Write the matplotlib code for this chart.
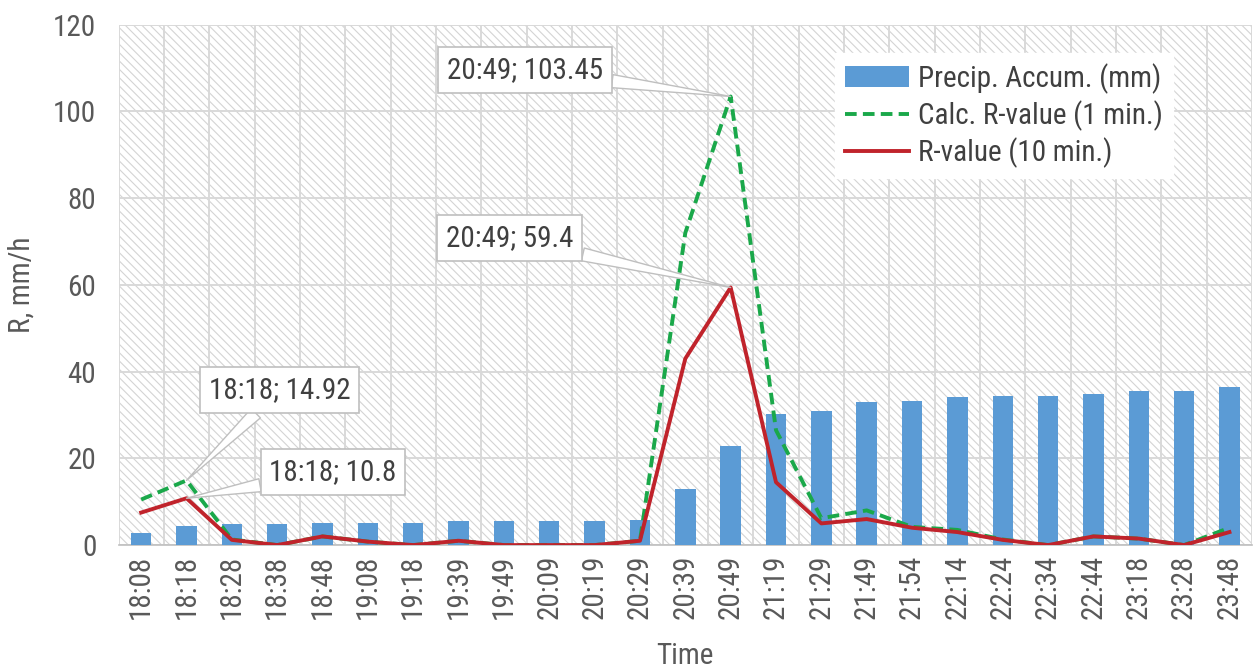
import matplotlib
matplotlib.use("Agg")
import matplotlib.pyplot as plt
from matplotlib.patches import Rectangle
from matplotlib import font_manager
import numpy as np

_names = {f.name for f in font_manager.fontManager.ttflist}
_fam = 'Roboto Condensed' if 'Roboto Condensed' in _names else 'Roboto'
plt.rcParams['font.family'] = [_fam, 'DejaVu Sans']
plt.rcParams['hatch.linewidth'] = 0.8
plt.rcParams['hatch.color'] = '#d4d4d4'

times = ["18:08", "18:18", "18:28", "18:38", "18:48", "19:08", "19:18", "19:39", "19:49",
         "20:09", "20:19", "20:29", "20:39", "20:49", "21:19", "21:29", "21:49", "21:54",
         "22:14", "22:24", "22:34", "22:44", "23:18", "23:28", "23:48"]
precip = [2.8, 4.5, 4.8, 4.8, 5.0, 5.2, 5.2, 5.5, 5.5, 5.5, 5.5, 5.8, 13.0, 22.8, 30.2,
          31.0, 33.0, 33.2, 34.2, 34.4, 34.4, 34.8, 35.5, 35.5, 36.5]
calc_r1 = [10.5, 14.92, 1.3, 0.0, 2.0, 0.8, 0.0, 1.0, 0.0, 0.0, 0.0, 1.0, 72.0, 103.45,
           26.5, 6.2, 8.0, 4.2, 3.5, 1.3, 0.0, 2.0, 1.5, 0.0, 4.0]
r10 = [7.5, 10.8, 1.2, 0.0, 2.0, 0.8, 0.0, 1.0, 0.0, 0.0, 0.0, 1.0, 43.0, 59.4,
       14.5, 5.0, 6.0, 4.0, 3.0, 1.2, 0.0, 2.0, 1.5, 0.0, 3.0]
annotations = [("20:49; 103.45", 13, 103.45, 8.46, 109.6),
               ("20:49; 59.4", 13, 59.4, 8.13, 70.8),
               ("18:18; 14.92", 1, 14.92, 3.06, 35.8),
               ("18:18; 10.8", 1, 10.8, 4.23, 16.8)]

FS = 21
fig = plt.figure(figsize=(12.54, 6.68), dpi=100)
ax = fig.add_axes([0.0945, 0.184, 0.904, 0.779])
x = np.arange(len(times))

ax.set_facecolor('white')
ax.add_patch(Rectangle((0, 0), 1, 1, transform=ax.transAxes, facecolor='white',
                       hatch='\\\\\\\\', edgecolor='#d4d4d4', linewidth=0, zorder=0))

bars = ax.bar(x, precip, width=0.45, color='#5b9bd5', label='Precip. Accum. (mm)', zorder=3)
l1, = ax.plot(x, calc_r1, color='#1aa84a', linestyle=(0, (3, 1.6)), linewidth=2.8,
              label='Calc. R-value (1 min.)', zorder=4)
l2, = ax.plot(x, r10, color='#c0232b', linewidth=2.8, label='R-value (10 min.)', zorder=5)

ax.set_xlim(-0.5, len(times) - 0.5)
ax.set_ylim(0, 120)
ax.set_yticks(np.arange(0, 121, 20))
ax.set_xticks(x)
ax.set_xticklabels(times, rotation=90)
ax.set_xticks(np.arange(-0.5, len(times), 1), minor=True)
ax.grid(True, axis='y', which='major', color='#d9d9d9', linewidth=1.4, zorder=1)
ax.grid(True, axis='x', which='minor', color='#d9d9d9', linewidth=1.4, zorder=1)
ax.grid(False, axis='x', which='major')
ax.set_axisbelow(True)
ax.tick_params(axis='both', which='both', length=0, labelsize=FS, colors='#595959')
ax.tick_params(axis='y', pad=16)
ax.tick_params(axis='x', pad=7)
for s in ['top', 'right', 'left']:
    ax.spines[s].set_visible(False)
ax.spines['bottom'].set_color('#bfbfbf')
ax.spines['bottom'].set_linewidth(1.2)

ax.set_ylabel('R, mm/h', fontsize=FS, color='#595959')
ax.set_xlabel('Time', fontsize=FS, color='#595959')
ax.yaxis.set_label_coords(-0.073, 0.5)
ax.xaxis.set_label_coords(0.5, -0.186)

for txt, px, py, tx, ty in annotations:
    ax.annotate(txt, xy=(px, py), xytext=(tx, ty), fontsize=FS, color='#404040',
                ha='center', va='center', zorder=7,
                bbox=dict(boxstyle='square,pad=0.3', fc='white', ec='#bfbfbf', lw=1.2),
                arrowprops=dict(arrowstyle='wedge,tail_width=0.45,shrink_factor=0.5',
                                fc='white', ec='#bfbfbf', lw=1.0,
                                shrinkA=0, shrinkB=0))

leg = ax.legend([bars, l1, l2], [bars.get_label(), l1.get_label(), l2.get_label()],
                loc='upper right', bbox_to_anchor=(0.930, 0.946), borderaxespad=0,
                fontsize=FS, frameon=True, fancybox=False, edgecolor='white', framealpha=1,
                handlelength=2.2, handletextpad=0.3, labelspacing=0.22,
                borderpad=0.35)
for t in leg.get_texts():
    t.set_color('#404040')
leg.set_zorder(8)

fig.savefig('out.png', dpi=100)
